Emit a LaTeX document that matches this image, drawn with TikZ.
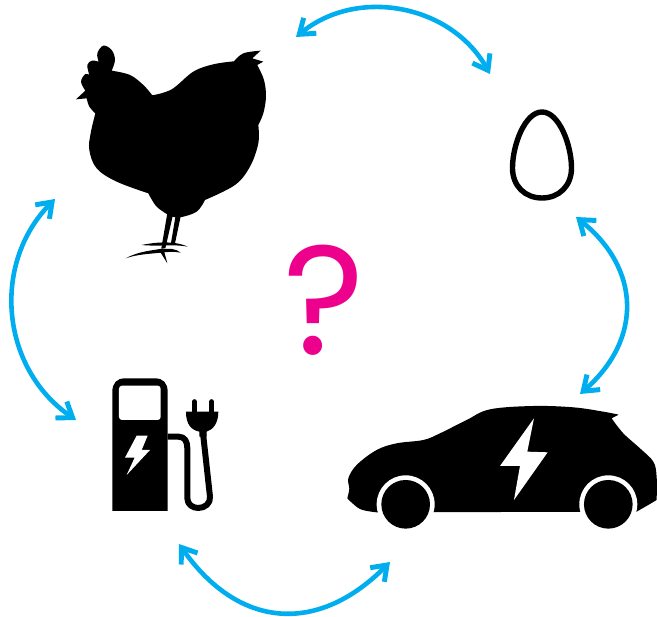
\documentclass[tikz,border=0pt]{standalone}
\usepackage{fontspec}
\setmainfont{Poppins}
\usetikzlibrary{arrows.meta}
\definecolor{cycleblue}{HTML}{00AEEF}
\definecolor{askpink}{HTML}{EC008C}
\pgfdeclarearrow{
  name=Cycle Vee,
  setup code={
    \pgfarrowssettipend{0pt}
    \pgfarrowssetlineend{-7pt}
    \pgfarrowssetvisualbackend{-8pt}
    \pgfarrowssetbackend{-19.5pt}
    \pgfarrowshullpoint{0pt}{0pt}
    \pgfarrowshullpoint{-19.5pt}{12pt}
    \pgfarrowshullpoint{-19.5pt}{-12pt}
  },
  drawing code={
    \pgfpathmoveto{\pgfpoint{0pt}{0pt}}
    \pgfpathlineto{\pgfpoint{-16.6pt}{12pt}}
    \pgfpathlineto{\pgfpoint{-19.5pt}{8pt}}
    \pgfpathlineto{\pgfpoint{-8.5pt}{0pt}}
    \pgfpathlineto{\pgfpoint{-19.5pt}{-8pt}}
    \pgfpathlineto{\pgfpoint{-16.6pt}{-12pt}}
    \pgfpathclose
    \pgfusepathqfill
  }
}
\tikzset{
  cycle/.style={draw=cycleblue, line width=4.6pt, {Cycle Vee}-{Cycle Vee}},
  bolt/.style={fill=white, draw=none},
  hose/.style={draw=black, line width=6pt}
}
\begin{document}
\begin{tikzpicture}[x=1pt,y=-1pt]
  \useasboundingbox (0,0) rectangle (657,617);
  % ends of the arrows
  \coordinate (henR) at (296,37);
  \coordinate (eggL) at (490,74);
  \coordinate (eggB) at (576,217);
  \coordinate (carT) at (580,394);
  \coordinate (carB) at (390,562);
  \coordinate (pumpB) at (179,544);
  \coordinate (pumpL) at (76,420);
  \coordinate (henB) at (55,199);
  \draw[cycle] (henR) to[bend left=50,looseness=1.03] (eggL);
  \draw[cycle] (eggB) to[bend left=50,looseness=1.2] (carT);
  \draw[cycle] (carB) to[bend left=50,looseness=1.25] (pumpB);
  \draw[cycle] (pumpL) to[bend left=50,looseness=1.05] (henB);
  % hen
  \begin{scope}[shift={(60,30)},x=0.3333pt,y=-0.3333pt]
    \fill plot[smooth,tension=0.6] coordinates {(116,95) (112,70) (130,47) (155,60) (165,90) (155,122)}
      -- plot[smooth,tension=0.6] coordinates {(155,122) (210,135) (250,165) (277,196)}
      -- plot[smooth,tension=0.6] coordinates {(277,196) (335,178) (400,125) (460,103) (522,94)}
      -- plot[smooth,tension=0.6] coordinates {(522,94) (550,70) (602,62)}
      -- (577,85) -- (610,95) -- (592,105)
      -- plot[smooth,tension=0.6] coordinates {(592,105) (612,150) (618,200) (610,250) (595,285)}
      -- plot[smooth,tension=0.6] coordinates {(595,285) (595,340) (570,410) (525,465) (435,510)}
      -- plot[smooth,tension=0.6] coordinates {(435,510) (410,545) (360,562) (330,558)}
      -- plot[smooth,tension=0.6] coordinates {(330,558) (290,530) (265,490)}
      -- plot[smooth,tension=0.6] coordinates {(265,490) (170,455) (110,415) (88,360) (92,310) (106,250)}
      -- plot[smooth,tension=0.6] coordinates {(106,250) (88,230) (80,205)}
      -- (48,208) -- (76,182)
      -- plot[smooth,tension=0.6] coordinates {(76,182) (63,155) (76,132) (88,135)}
      -- plot[smooth,tension=0.6] coordinates {(88,135) (82,105) (96,92) (116,95)} -- cycle;
    \fill (322,550) -- (340,550) -- (316,655) -- (304,655) -- cycle;
    \fill (348,550) -- (364,550) -- (344,645) -- (332,645) -- cycle;
    \fill (197,685) .. controls (240,662) and (280,662) .. (310,655) -- (322,700) -- (302,668) .. controls (270,672) and (235,672) .. (197,685) -- cycle;
    \fill (245,645) .. controls (280,638) and (340,630) .. (383,650) .. controls (345,642) and (290,650) .. (245,645) -- cycle;
    \fill (300,660) .. controls (330,652) and (350,658) .. (362,668) .. controls (340,664) and (325,666) .. (300,668) -- cycle;
  \end{scope}
  % egg
  \draw[line width=5.4pt,fill=white] (542,112) .. controls (525,112) and (512.5,145) .. (512.5,168)
    .. controls (512.5,186) and (525,198) .. (542,198) .. controls (559,198) and (571.5,186) .. (571.5,168)
    .. controls (571.5,145) and (559,112) .. (542,112) -- cycle;
  % charging pump
  \begin{scope}[shift={(100,370)},x=0.3333pt,y=-0.3333pt]
    \fill (37,423) -- (37,65) .. controls (37,40) and (50,25) .. (75,25) -- (165,25)
      .. controls (190,25) and (203,40) .. (203,65) -- (203,423) -- cycle;
    \fill[white,rounded corners=3pt] (57,47) rectangle (182,150);
    \fill[bolt] (110,197) -- (143,197) -- (125,240) -- (150,240) -- (80,315) -- (104,263) -- (75,263) -- cycle;
    \draw[hose,line join=round] (203,200) -- (235,200) .. controls (255,200) and (262,215) .. (262,235) -- (262,385)
      .. controls (262,405) and (280,414) .. (295,414) .. controls (315,414) and (332,400) .. (330,380) -- (308,180);
    \fill (258,125) -- (355,125) .. controls (355,165) and (335,180) .. (320,185) -- (320,200) -- (298,200) -- (298,185) .. controls (275,180) and (258,165) .. (258,125) -- cycle;
    \draw[line width=5pt,line cap=round] (283,95) -- (283,130);
    \draw[line width=5pt,line cap=round] (335,95) -- (335,130);
  \end{scope}
  % electric car
  \begin{scope}[shift={(340,390)},x=0.3333pt,y=-0.3333pt]
    \fill plot[smooth,tension=0.6] coordinates {(22,325) (28,295) (25,265) (50,225) (110,180) (170,160) (250,150) (300,130) (380,90) (450,58) (580,48) (700,52) (790,65) (836,74)}
      -- (815,85)
      -- plot[smooth,tension=0.6] coordinates {(815,85) (850,130) (900,175) (940,215) (950,260) (950,330)}
      -- (925,345) -- (890,365) -- (110,367)
      -- plot[smooth,tension=0.6] coordinates {(110,367) (60,357) (22,325)} -- cycle;
    \fill[white] (197,343) circle[radius=87];
    \fill[white] (805,343) circle[radius=87];
    \fill (197,343) circle[radius=73];
    \fill (805,343) circle[radius=73];
    \fill[bolt] (582,85) -- (562,185) -- (623,187) -- (522,330) -- (540,228) -- (480,228) -- cycle;
  \end{scope}
  % question mark
  \node[text=askpink,inner sep=0pt,font=\fontsize{155}{155}\selectfont] (ask) at (324,300) {?};
\end{tikzpicture}
\end{document}
